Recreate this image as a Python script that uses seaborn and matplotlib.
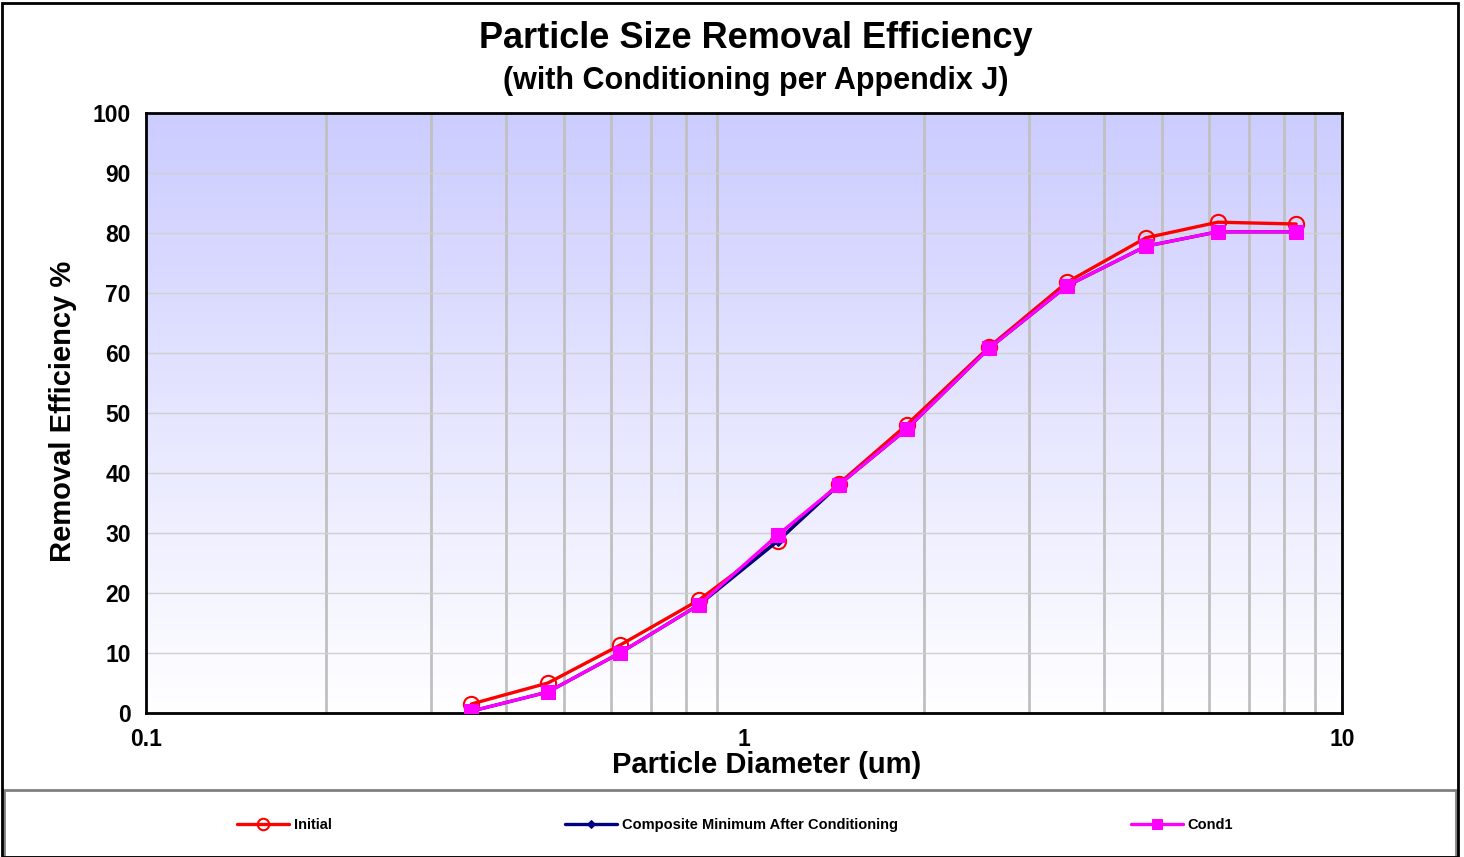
import numpy as np
import pandas as pd
import matplotlib
matplotlib.use("Agg")
import matplotlib.pyplot as plt
import seaborn as sns
from matplotlib.colors import LinearSegmentedColormap
from matplotlib.patches import Rectangle
from matplotlib.ticker import LogLocator, FixedLocator, NullFormatter

# particle diameters (um)
diameter = [0.35, 0.47, 0.62, 0.84, 1.14, 1.44, 1.87, 2.57, 3.47, 4.70, 6.20, 8.38]
# removal efficiency %
initial = [1.5, 5.0, 11.3, 18.8, 28.7, 38.2, 48.0, 61.0, 71.8, 79.2, 81.8, 81.5]
cond1 = [0.3, 3.5, 10.0, 18.0, 29.7, 38.0, 47.3, 60.8, 71.2, 77.8, 80.2, 80.2]
composite_min = [0.3, 3.5, 10.0, 18.0, 28.7, 38.0, 47.3, 60.8, 71.2, 77.8, 80.2, 80.2]

series_names = ["Initial", "Composite Minimum After Conditioning", "Cond1"]
y_ticks = list(range(0, 101, 10))
x_ticks = [0.1, 1, 10]
x_tick_labels = ["0.1", "1", "10"]

sns.set_style("white")
plt.rcParams["font.family"] = ["Liberation Sans", "DejaVu Sans"]
plt.rcParams["font.weight"] = "bold"
for key in ["text.color", "axes.labelcolor", "xtick.labelcolor", "ytick.labelcolor"]:
    plt.rcParams[key] = "black"

W, H = 1464, 857
fig = plt.figure(figsize=(W / 100, H / 100), dpi=100)
ax = fig.add_axes([146 / W, 1 - 713 / H, (1342 - 146) / W, (713 - 113) / H])

# gradient background, lavender at top fading to white
cmap = LinearSegmentedColormap.from_list("bg", ["#ffffff", "#ccccff"])
grad = np.linspace(0, 1, 256).reshape(-1, 1)
ax.imshow(grad, extent=[0, 1, 0, 1], transform=ax.transAxes, aspect="auto",
          cmap=cmap, origin="lower", zorder=0)

df = pd.DataFrame({"d": diameter, "Initial": initial,
                   "Composite": composite_min, "Cond1": cond1})

sns.lineplot(data=df, x="d", y="Initial", ax=ax, color="#ff0000", lw=2.4,
             marker="o", markersize=11, markerfacecolor="none",
             markeredgecolor="#ff0000", markeredgewidth=1.5,
             label=series_names[0], zorder=3)
sns.lineplot(data=df, x="d", y="Composite", ax=ax, color="#000080", lw=2.4,
             marker="D", markersize=5, markerfacecolor="#000080",
             markeredgecolor="#000080", label=series_names[1], zorder=4)
sns.lineplot(data=df, x="d", y="Cond1", ax=ax, color="#ff00ff", lw=2.4,
             marker="s", markersize=10, markerfacecolor="#ff00ff",
             markeredgecolor="#ff00ff", label=series_names[2], zorder=5)

ax.set_xscale("log")
ax.set_xlim(0.1, 10)
ax.set_ylim(0, 100)

ax.xaxis.set_major_locator(FixedLocator(x_ticks))
ax.set_xticklabels(x_tick_labels)
ax.xaxis.set_minor_locator(LogLocator(base=10, subs=np.arange(2, 10)))
ax.xaxis.set_minor_formatter(NullFormatter())
ax.set_yticks(y_ticks)

ax.grid(False)
ax.grid(which="minor", axis="x", color="#c0c0c0", lw=2, zorder=1)
ax.grid(which="major", axis="y", color="#d0d0d0", lw=1, zorder=1)
ax.set_axisbelow(True)

ax.tick_params(axis="x", which="major", direction="out", length=7, width=1.5,
               color="black", labelsize=16.5, pad=4)
ax.tick_params(axis="x", which="minor", length=0)
ax.tick_params(axis="y", direction="out", length=5, width=1, color="#808080",
               labelsize=16.5, pad=6)
for lbl in ax.get_xticklabels() + ax.get_yticklabels():
    lbl.set_fontweight("bold")

for sp in ax.spines.values():
    sp.set_color("black")
    sp.set_linewidth(2)

ax.set_xlabel("")
ax.set_ylabel("")
fig.text(767 / W, 1 - 765 / H, "Particle Diameter (um)", ha="center", va="center",
         fontsize=21, fontweight="bold")
fig.text(63 / W, 1 - 411 / H, "Removal Efficiency %", ha="center", va="center",
         rotation=90, fontsize=21, fontweight="bold")

fig.text(756 / W, 1 - 39 / H, "Particle Size Removal Efficiency", ha="center",
         va="center", fontsize=26, fontweight="bold")
fig.text(756 / W, 1 - 81 / H, "(with Conditioning per Appendix J)", ha="center",
         va="center", fontsize=22, fontweight="bold")

ax.get_legend().remove()
handles, labels = ax.get_legend_handles_labels()
fig.legend(handles, labels, loc="center", bbox_to_anchor=(735 / W, 1 - 825 / H),
           ncol=3, frameon=False, columnspacing=16.0, handlelength=3.6,
           handletextpad=0.3, markerscale=0.75, prop={"size": 10.5, "weight": "bold"})

# legend box and outer border
fig.patches.append(Rectangle((4 / W, 0), 1452 / W, (857 - 790) / H,
                             transform=fig.transFigure, fill=False,
                             edgecolor="#808080", lw=2))
fig.patches.append(Rectangle((2 / W, 0), 1456 / W, 854 / H,
                             transform=fig.transFigure, fill=False,
                             edgecolor="black", lw=2))

fig.savefig("out.png", dpi=100, facecolor="white")
